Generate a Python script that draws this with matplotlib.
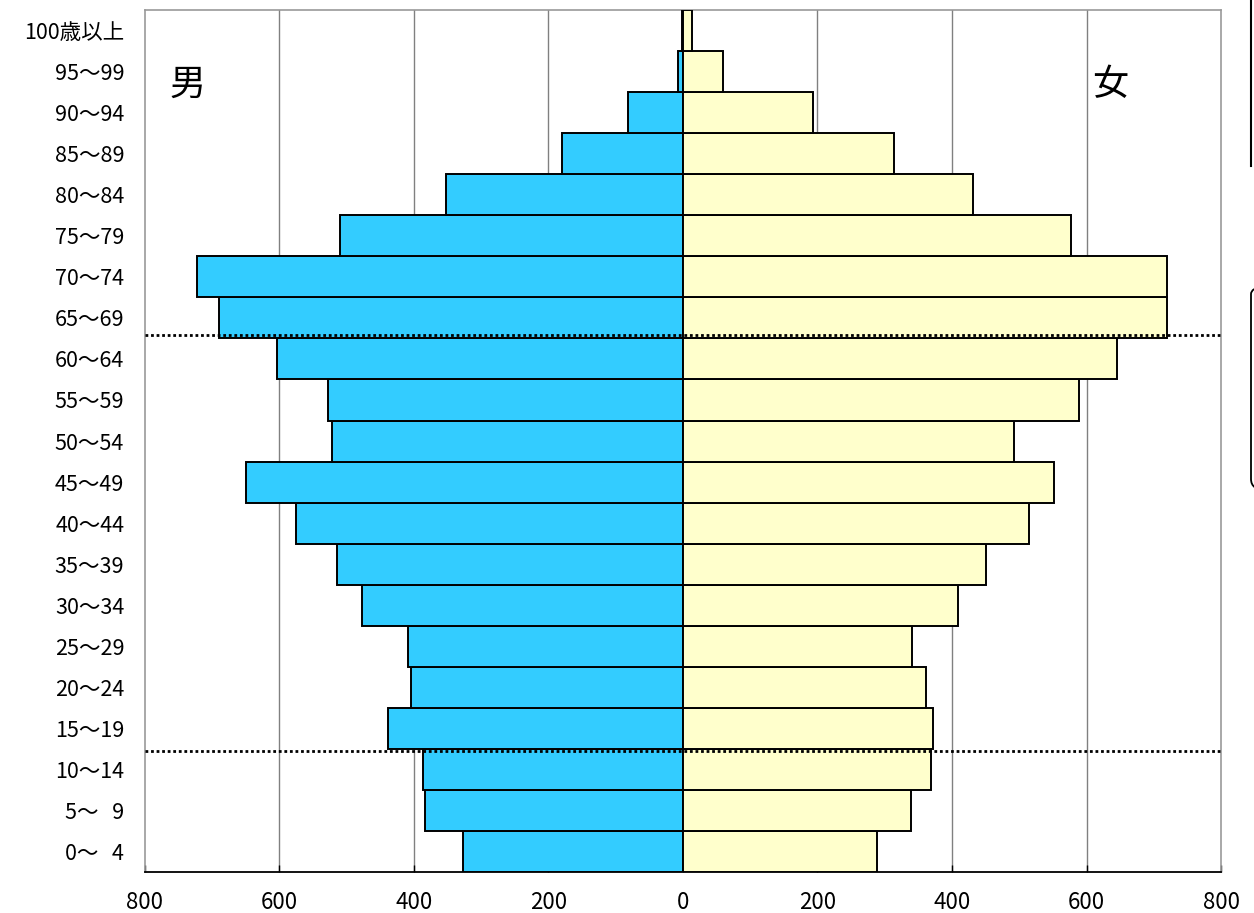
import matplotlib.pyplot as plt
from matplotlib.patches import FancyBboxPatch
from matplotlib.lines import Line2D

plt.rcParams['font.family'] = ['Noto Sans CJK JP', 'DejaVu Sans']

ages = ['0～\u20074', '5～\u20079', '10～14', '15～19', '20～24', '25～29', '30～34',
        '35～39', '40～44', '45～49', '50～54', '55～59', '60～64', '65～69',
        '70～74', '75～79', '80～84', '85～89', '90～94', '95～99', '100歳以上']
male = [327, 384, 387, 439, 404, 409, 477, 514, 575, 650, 522, 528, 604, 690,
        723, 510, 352, 180, 82, 7, 2]
female = [288, 339, 369, 372, 361, 341, 409, 451, 514, 552, 492, 589, 645, 720,
          720, 577, 431, 314, 193, 60, 13]
xticks = [-800, -600, -400, -200, 0, 200, 400, 600, 800]

fig = plt.figure(figsize=(12.54, 9.13), dpi=100)
ax = fig.add_axes([0.1156, 0.0449, 0.8581, 0.9441])

y = list(range(len(ages)))
ax.barh(y, [-m for m in male], height=1.0, color='#33CCFF', edgecolor='black',
        linewidth=1.4, zorder=3)
ax.barh(y, female, height=1.0, color='#FFFFCC', edgecolor='black',
        linewidth=1.4, zorder=3)

ax.set_xlim(-800, 800)
ax.set_ylim(-0.5, len(ages) - 0.5)
ax.set_xticks(xticks)
ax.set_xticklabels([str(abs(v)) for v in xticks], fontsize=16)
ax.set_yticks(y)
ax.set_yticklabels(ages, fontsize=15.5)
ax.tick_params(axis='x', direction='in', length=5, width=1, pad=14)
ax.tick_params(axis='y', length=0, pad=15)

for v in xticks[1:-1]:
    ax.axvline(v, color='#808080', linewidth=1, zorder=1)

for s in ['left', 'top', 'right']:
    ax.spines[s].set_color('#999999')
    ax.spines[s].set_linewidth(1.2)
ax.spines['bottom'].set_color('black')
ax.spines['bottom'].set_linewidth(1.3)

# dotted boundary lines
ax.axhline(12.58, color='black', linestyle=(0, (1, 1)), linewidth=2, zorder=5)
ax.axhline(2.45, color='black', linestyle=(0, (1, 1)), linewidth=2, zorder=5)

ax.text(-736, 18.67, '男', fontsize=26, ha='center', va='center')
ax.text(635, 18.67, '女', fontsize=26, ha='center', va='center')

# cropped shapes at right edge
fig.add_artist(Line2D([1251 / 1254, 1251 / 1254], [1.0, 1 - 166 / 913],
                      color='black', linewidth=1.5))
fig.add_artist(FancyBboxPatch((1251 / 1254, 1 - 490 / 913), 0.05, 207 / 913,
                              boxstyle='round,pad=0,rounding_size=0.012',
                              facecolor='none', edgecolor='black', linewidth=1.3))

fig.savefig('out.png', dpi=100)
